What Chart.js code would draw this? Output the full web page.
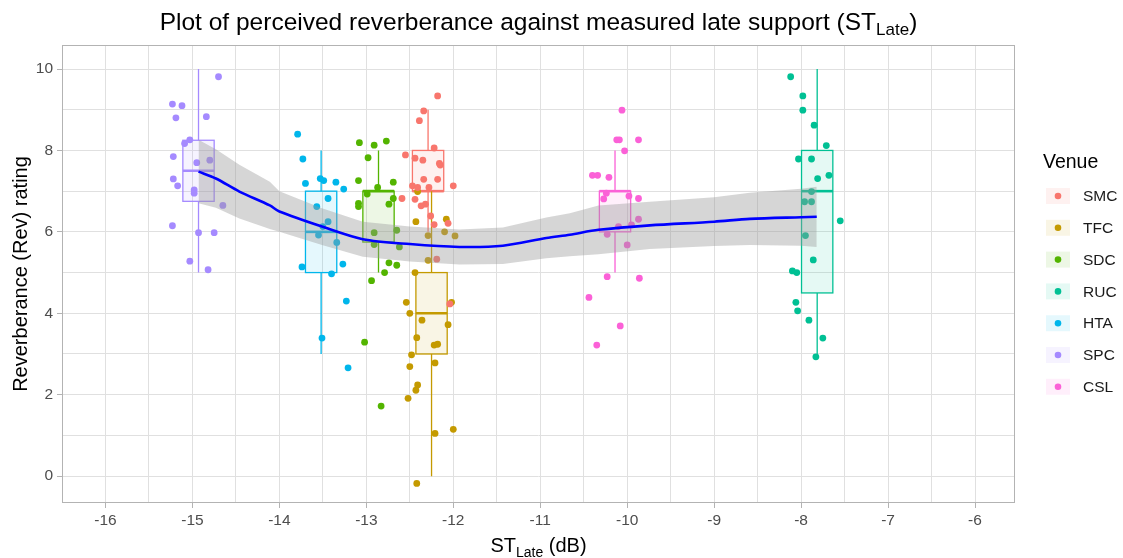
<!DOCTYPE html>
<html>
<head>
<meta charset="utf-8">
<script src="https://cdn.jsdelivr.net/npm/chart.js@4.4.1/dist/chart.umd.min.js"></script>
<style>
  html, body { margin: 0; padding: 0; background: #ffffff; }
  canvas { display: block; }
</style>
</head>
<body>
<canvas id="myChart" width="1123" height="558"></canvas>
<script>
// Venues, colours and the ST_Late position of each venue
const venueNames = ['SMC', 'TFC', 'SDC', 'RUC', 'HTA', 'SPC', 'CSL'];
const venueColors = ['#F8766D', '#C49A00', '#53B400', '#00C094', '#00B6EB', '#A58AFF', '#FB61D7'];
const venueST = [-12.29, -12.25, -12.86, -7.815, -13.52, -14.93, -10.14];

// Box plot summaries (whisker low, Q1, median, Q3, whisker high)
const boxLow = [6, 0, 5, 3, 3, 5, 5];
const boxQ1 = [7, 3, 5.75, 4.5, 5, 6.75, 6];
const boxMedian = [7, 4, 7, 7, 6, 7.5, 7];
const boxQ3 = [8, 5, 7, 8, 7, 8.25, 7];
const boxHigh = [9, 7, 8, 10, 8, 10, 8];

// Individual (jittered) ratings per venue: [ST_Late, rating]
const smcRatings = [[-12.18, 9.34], [-12.34, 8.97], [-12.39, 8.73], [-12.22, 8.06], [-12.55, 7.89], [-12.44, 7.81],
  [-12.35, 7.76], [-12.16, 7.68], [-12.15, 7.64], [-12.34, 7.29], [-12.18, 7.29], [-12.47, 7.13], [-12.41, 7.09],
  [-12.28, 7.09], [-12.00, 7.13], [-12.59, 6.82], [-12.44, 6.80], [-12.37, 6.64], [-12.32, 6.68], [-12.26, 6.39],
  [-12.22, 6.18], [-12.06, 6.21], [-12.19, 5.33], [-12.04, 4.23]];
const tfcRatings = [[-12.41, 6.99], [-12.43, 6.25], [-12.08, 6.31], [-12.10, 6.00], [-11.98, 5.90], [-12.29, 5.91],
  [-12.29, 5.30], [-12.44, 5.00], [-12.54, 4.27], [-12.50, 4.00], [-12.02, 4.27], [-12.36, 3.83], [-12.06, 3.72],
  [-12.42, 3.40], [-12.22, 3.22], [-12.18, 3.24], [-12.48, 2.98], [-12.21, 2.78], [-12.50, 2.69], [-12.41, 2.24],
  [-12.43, 2.11], [-12.52, 1.91], [-12.21, 1.05], [-12.00, 1.15], [-12.42, -0.18]];
const sdcRatings = [[-13.08, 8.19], [-12.91, 8.13], [-12.77, 8.23], [-12.98, 7.82], [-13.09, 7.26], [-12.69, 7.22],
  [-12.99, 6.93], [-12.87, 7.09], [-13.09, 6.70], [-13.09, 6.62], [-12.69, 6.82], [-12.74, 6.68], [-12.65, 6.04],
  [-12.91, 5.98], [-12.91, 5.69], [-12.62, 5.63], [-12.74, 5.24], [-12.65, 5.18], [-12.79, 5.00], [-12.94, 4.80],
  [-13.02, 3.29], [-12.83, 1.72]];
const rucRatings = [[-8.12, 9.81], [-7.98, 9.34], [-7.98, 8.99], [-7.85, 8.62], [-7.71, 8.12], [-8.03, 7.79],
  [-7.88, 7.79], [-7.81, 7.31], [-7.68, 7.39], [-7.88, 6.99], [-7.96, 6.74], [-7.88, 6.74], [-7.55, 6.27],
  [-7.95, 5.91], [-7.86, 5.31], [-8.10, 5.04], [-8.05, 5.00], [-8.06, 4.27], [-8.04, 4.06], [-7.91, 3.83],
  [-7.75, 3.39], [-7.83, 2.93]];
const htaRatings = [[-13.79, 8.40], [-13.73, 7.79], [-13.70, 7.19], [-13.53, 7.31], [-13.49, 7.26], [-13.35, 7.22],
  [-13.26, 7.05], [-13.44, 6.82], [-13.57, 6.62], [-13.44, 6.25], [-13.50, 6.13], [-13.55, 5.92], [-13.34, 5.74],
  [-13.74, 5.14], [-13.27, 5.21], [-13.40, 4.97], [-13.23, 4.30], [-13.51, 3.39], [-13.21, 2.66]];
const spcRatings = [[-14.70, 9.81], [-15.23, 9.14], [-15.12, 9.10], [-15.19, 8.80], [-14.84, 8.83], [-15.09, 8.17],
  [-15.03, 8.26], [-15.22, 7.85], [-14.95, 7.70], [-14.80, 7.76], [-15.22, 7.30], [-15.17, 7.13], [-14.98, 7.03],
  [-14.98, 6.95], [-14.65, 6.65], [-15.23, 6.15], [-14.93, 5.98], [-14.75, 5.98], [-15.03, 5.28], [-14.82, 5.07]];
const cslRatings = [[-10.06, 8.99], [-10.12, 8.26], [-10.09, 8.26], [-9.87, 8.26], [-10.03, 7.99], [-10.40, 7.39],
  [-10.34, 7.39], [-10.21, 7.34], [-10.24, 6.95], [-10.27, 6.81], [-9.98, 6.88], [-9.87, 6.82], [-9.87, 6.31],
  [-10.10, 6.13], [-9.95, 6.17], [-10.23, 5.94], [-10.00, 5.68], [-10.23, 4.90], [-9.86, 4.86], [-10.44, 4.39],
  [-10.08, 3.69], [-10.35, 3.22]];
const venueRatings = [smcRatings, tfcRatings, sdcRatings, rucRatings, htaRatings, spcRatings, cslRatings];

// Smoothed trend and its confidence band
const smoothX = [-14.93, -14.73, -14.46, -14.11, -14.0, -13.51, -13.04, -12.5, -11.93, -11.43, -10.93, -10.66,
  -10.33, -9.74, -9.0, -8.59, -8.0, -7.82];
const smoothY = [7.48, 7.31, 6.99, 6.65, 6.50, 6.13, 5.82, 5.70, 5.63, 5.66, 5.85, 5.93, 6.05, 6.16, 6.25, 6.32,
  6.36, 6.37];
const bandLow = [6.70, 6.59, 6.33, 6.07, 6.00, 5.68, 5.39, 5.27, 5.20, 5.21, 5.35, 5.40, 5.45, 5.58, 5.65, 5.68,
  5.66, 5.63];
const bandHigh = [8.26, 8.03, 7.65, 7.23, 7.00, 6.58, 6.25, 6.13, 6.06, 6.11, 6.35, 6.46, 6.65, 6.74, 6.85, 6.96,
  7.06, 7.11];

// Axis ticks (whole numbers labelled, halves/odd values as minor grid)
const xTicks = [-16, -15.5, -15, -14.5, -14, -13.5, -13, -12.5, -12, -11.5, -11, -10.5, -10, -9.5, -9, -8.5, -8,
  -7.5, -7, -6.5, -6];
const xLabelled = [-16, -15, -14, -13, -12, -11, -10, -9, -8, -7, -6];
const yTicks = [0, 1, 2, 3, 4, 5, 6, 7, 8, 9, 10];
const yLabelled = [0, 2, 4, 6, 8, 10];

const FONT = '"Liberation Sans", Arial, sans-serif';
const BOX_HALF = 0.18;

function hexToRgba(hex, a) {
    const n = parseInt(hex.slice(1), 16);
    return `rgba(${(n >> 16) & 255}, ${(n >> 8) & 255}, ${n & 255}, ${a})`;
}

// Box plots drawn underneath the points
const boxPlugin = {
    id: 'venueBoxes',
    beforeDatasetsDraw(chart) {
        const { ctx, scales: { x, y } } = chart;
        ctx.save();
        venueNames.forEach((name, i) => {
            const cx = x.getPixelForValue(venueST[i]);
            const left = x.getPixelForValue(venueST[i] - BOX_HALF);
            const right = x.getPixelForValue(venueST[i] + BOX_HALF);
            const yLow = y.getPixelForValue(boxLow[i]);
            const yQ1 = y.getPixelForValue(boxQ1[i]);
            const yMed = y.getPixelForValue(boxMedian[i]);
            const yQ3 = y.getPixelForValue(boxQ3[i]);
            const yHigh = y.getPixelForValue(boxHigh[i]);
            ctx.strokeStyle = venueColors[i];
            ctx.lineWidth = 1.3;
            // whiskers
            ctx.beginPath();
            ctx.moveTo(cx, yHigh);
            ctx.lineTo(cx, yQ3);
            ctx.moveTo(cx, yQ1);
            ctx.lineTo(cx, yLow);
            ctx.stroke();
            // box
            ctx.fillStyle = hexToRgba(venueColors[i], 0.1);
            ctx.fillRect(left, yQ3, right - left, yQ1 - yQ3);
            ctx.strokeRect(left, yQ3, right - left, yQ1 - yQ3);
            // median
            ctx.lineWidth = 2.6;
            ctx.beginPath();
            ctx.moveTo(left, yMed);
            ctx.lineTo(right, yMed);
            ctx.stroke();
        });
        ctx.restore();
    }
};

// Draws a run of text parts, some of them subscripted
function drawRich(ctx, parts, cx, baseline) {
    let total = 0;
    parts.forEach(p => {
        ctx.font = `${p.size}px ${FONT}`;
        p.w = ctx.measureText(p.text).width;
        total += p.w;
    });
    let xPos = cx - total / 2;
    ctx.textAlign = 'left';
    ctx.textBaseline = 'alphabetic';
    parts.forEach(p => {
        ctx.font = `${p.size}px ${FONT}`;
        ctx.fillText(p.text, xPos, baseline + (p.drop || 0));
        xPos += p.w;
    });
}

// Titles, panel border and the legend
const textPlugin = {
    id: 'chartText',
    afterDraw(chart) {
        const { ctx, chartArea } = chart;
        const midX = (chartArea.left + chartArea.right) / 2;
        const midY = (chartArea.top + chartArea.bottom) / 2;
        ctx.save();

        ctx.strokeStyle = '#B3B3B3';
        ctx.lineWidth = 1;
        ctx.strokeRect(chartArea.left + 0.5, chartArea.top + 0.5,
            chartArea.right - chartArea.left - 1, chartArea.bottom - chartArea.top - 1);

        ctx.fillStyle = '#000000';
        drawRich(ctx, [
            { text: 'Plot of perceived reverberance against measured late support (ST', size: 24.5 },
            { text: 'Late', size: 17, drop: 5 },
            { text: ')', size: 24.5 }
        ], midX, 30);

        drawRich(ctx, [
            { text: 'ST', size: 20 },
            { text: 'Late', size: 14, drop: 5 },
            { text: ' (dB)', size: 20 }
        ], midX, 552);

        ctx.save();
        ctx.translate(21, midY);
        ctx.rotate(-Math.PI / 2);
        ctx.font = `20px ${FONT}`;
        ctx.textAlign = 'center';
        ctx.textBaseline = 'middle';
        ctx.fillText('Reverberance (Rev) rating', 0, 0);
        ctx.restore();

        // legend
        ctx.font = `19.5px ${FONT}`;
        ctx.textAlign = 'left';
        ctx.textBaseline = 'middle';
        ctx.fillStyle = '#000000';
        ctx.fillText('Venue', 1043, 163);
        venueNames.forEach((name, i) => {
            const cy = 196 + i * 31.8;
            ctx.fillStyle = hexToRgba(venueColors[i], 0.1);
            ctx.fillRect(1046, cy - 8, 24, 16);
            ctx.fillStyle = venueColors[i];
            ctx.beginPath();
            ctx.arc(1058, cy, 3.3, 0, Math.PI * 2);
            ctx.fill();
            ctx.fillStyle = '#1A1A1A';
            ctx.font = `15.5px ${FONT}`;
            ctx.fillText(name, 1083, cy + 1);
        });
        ctx.restore();
    }
};

function buildDatasets() {
    const datasets = [];
    venueNames.forEach((name, i) => {
        datasets.push({
            type: 'scatter',
            label: name,
            data: venueRatings[i].map(p => ({ x: p[0], y: p[1] })),
            backgroundColor: venueColors[i],
            borderWidth: 0,
            pointRadius: 3.4,
            order: 3
        });
    });
    datasets.push({
        type: 'line',
        label: 'band low',
        data: smoothX.map((v, i) => ({ x: v, y: bandLow[i] })),
        borderWidth: 0,
        pointRadius: 0,
        fill: false,
        order: 2
    });
    datasets.push({
        type: 'line',
        label: 'band high',
        data: smoothX.map((v, i) => ({ x: v, y: bandHigh[i] })),
        borderWidth: 0,
        pointRadius: 0,
        backgroundColor: 'rgba(153, 153, 153, 0.4)',
        fill: '-1',
        order: 2
    });
    datasets.push({
        type: 'line',
        label: 'smooth',
        data: smoothX.map((v, i) => ({ x: v, y: smoothY[i] })),
        borderColor: '#0000FF',
        borderWidth: 2.6,
        pointRadius: 0,
        tension: 0.3,
        fill: false,
        order: 1
    });
    return datasets;
}

function plotGraph() {
    const ctx = document.getElementById('myChart').getContext('2d');
    const gridColor = '#E0E0E0';
    const tickMarkColor = c => (c.tick && (xLabelled.includes(c.tick.value) || (c.scale.axis === 'y' && yLabelled.includes(c.tick.value)))) ? '#B3B3B3' : 'rgba(0,0,0,0)';

    new Chart(ctx, {
        type: 'scatter',
        data: { datasets: buildDatasets() },
        options: {
            responsive: false,
            devicePixelRatio: 1,
            animation: false,
            events: [],
            layout: { padding: { left: 0, top: 45, right: 108, bottom: 0 } },
            plugins: {
                legend: { display: false },
                tooltip: { enabled: false },
                filler: { propagate: false }
            },
            scales: {
                x: {
                    type: 'linear',
                    min: -16.5,
                    max: -5.54,
                    afterBuildTicks: scale => { scale.ticks = xTicks.map(v => ({ value: v })); },
                    afterFit: scale => { scale.height = 55; },
                    ticks: {
                        autoSkip: false,
                        maxRotation: 0,
                        padding: 3,
                        color: '#4D4D4D',
                        font: { family: FONT, size: 15.5 },
                        callback: v => xLabelled.includes(v) ? String(v) : ''
                    },
                    grid: {
                        color: gridColor,
                        lineWidth: 1,
                        tickLength: 5,
                        tickColor: tickMarkColor
                    },
                    border: { display: false }
                },
                y: {
                    type: 'linear',
                    min: -0.66,
                    max: 10.59,
                    afterBuildTicks: scale => { scale.ticks = yTicks.map(v => ({ value: v })); },
                    afterFit: scale => { scale.width = 62; },
                    ticks: {
                        autoSkip: false,
                        padding: 4,
                        color: '#4D4D4D',
                        font: { family: FONT, size: 15.5 },
                        callback: v => yLabelled.includes(v) ? String(v) : ''
                    },
                    grid: {
                        color: gridColor,
                        lineWidth: 1,
                        tickLength: 5,
                        tickColor: tickMarkColor
                    },
                    border: { display: false }
                }
            }
        },
        plugins: [boxPlugin, textPlugin]
    });
}

plotGraph();
</script>
</body>
</html>
